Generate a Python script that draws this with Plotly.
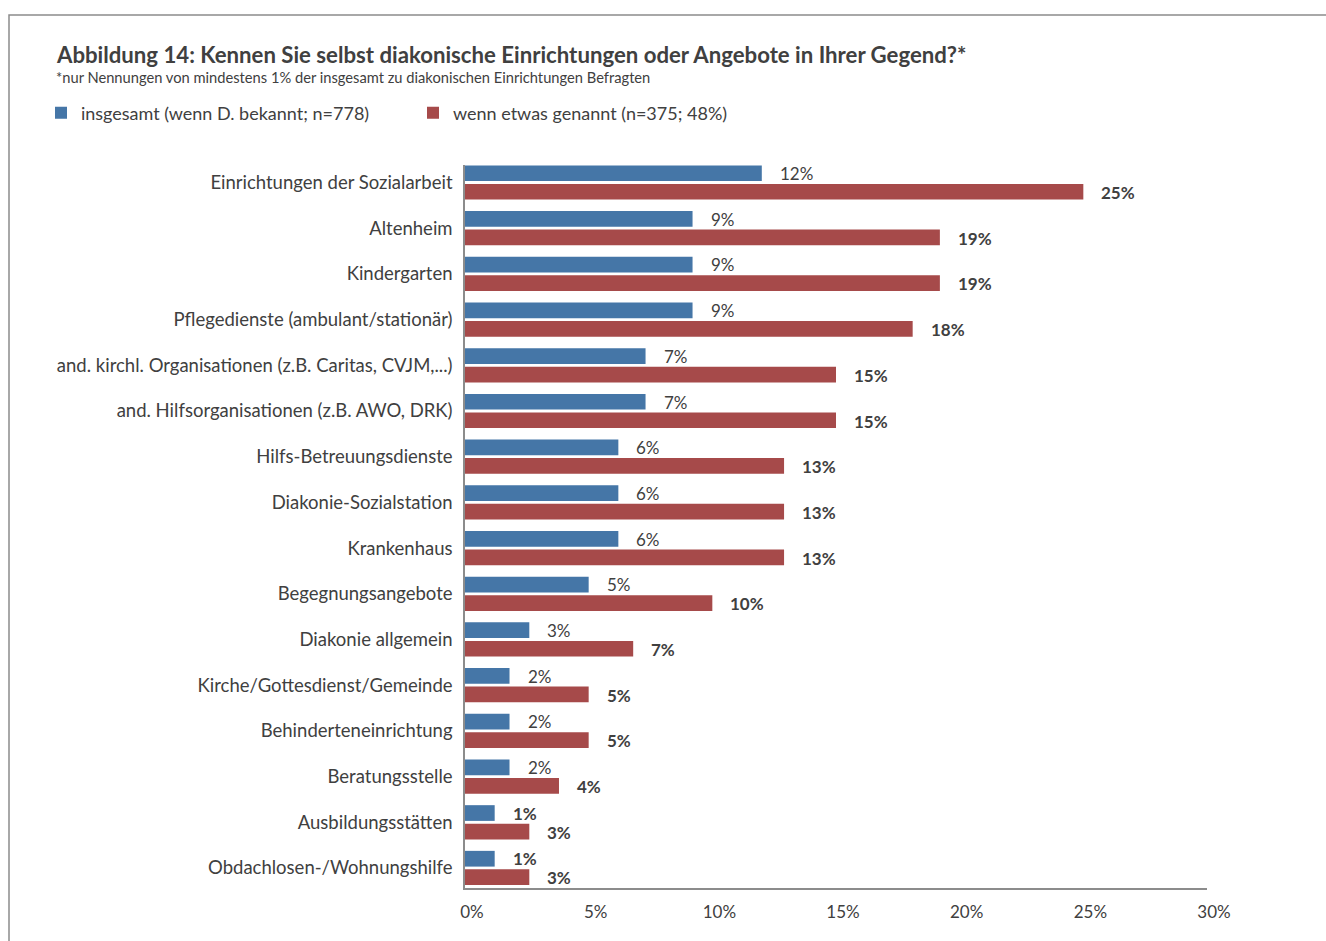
import plotly.graph_objects as go

# Survey data: share of respondents naming each type of diaconal institution
categories = [
    "Einrichtungen der Sozialarbeit",
    "Altenheim",
    "Kindergarten",
    "Pflegedienste (ambulant/stationär)",
    "and. kirchl. Organisationen (z.B. Caritas, CVJM,...)",
    "and. Hilfsorganisationen (z.B. AWO, DRK)",
    "Hilfs-Betreuungsdienste",
    "Diakonie-Sozialstation",
    "Krankenhaus",
    "Begegnungsangebote",
    "Diakonie allgemein",
    "Kirche/Gottesdienst/Gemeinde",
    "Behinderteneinrichtung",
    "Beratungsstelle",
    "Ausbildungsstätten",
    "Obdachlosen-/Wohnungshilfe",
]
insgesamt = [12, 9.2, 9.2, 9.2, 7.3, 7.3, 6.2, 6.2, 6.2, 5.0, 2.6, 1.8, 1.8, 1.8, 1.2, 1.2]
genannt = [25.0, 19.2, 19.2, 18.1, 15.0, 15.0, 12.9, 12.9, 12.9, 10.0, 6.8, 5.0, 5.0, 3.8, 2.6, 2.6]
series_names = ["insgesamt (wenn D. bekannt; n=778)", "wenn etwas genannt (n=375; 48%)"]
x_ticks = [0, 5, 10, 15, 20, 25, 30]
x_tick_labels = ["0%", "5%", "10%", "15%", "20%", "25%", "30%"]

title_text = "Abbildung 14: Kennen Sie selbst diakonische Einrichtungen oder Angebote in Ihrer Gegend?*"
subtitle_text = "*nur Nennungen von mindestens 1% der insgesamt zu diakonischen Einrichtungen Befragten"

FONT = "Lato"
TEXT = "#404040"
BLUE = "#4576a7"
RED = "#a64a4a"

W, H = 1326, 941
ML, MR, MT, MB = 465, 119, 165, 53
PW, PH = W - ML - MR, H - MT - MB


def px_x(px):
    return (px - ML) / PW


def px_y(py):
    return (H - MB - py) / PH


fig = go.Figure()
fig.add_trace(go.Bar(
    y=categories, x=insgesamt, orientation="h", name=series_names[0],
    marker=dict(color=BLUE, line=dict(width=0)), hoverinfo="x+y",
))
fig.add_trace(go.Bar(
    y=categories, x=genannt, orientation="h", name=series_names[1],
    marker=dict(color=RED, line=dict(width=0)), hoverinfo="x+y",
))

# value labels at the end of each bar
annotations = []
for cat, v in zip(categories, insgesamt):
    label = f"{v:.0f}%"
    annotations.append(dict(
        x=v, y=cat, xref="x", yref="y", text=f"<b>{label}</b>" if round(v) <= 1 else label,
        showarrow=False, xanchor="left", yanchor="middle", xshift=16, yshift=9,
        font=dict(family=FONT, size=17, color=TEXT),
    ))
for cat, v in zip(categories, genannt):
    annotations.append(dict(
        x=v, y=cat, xref="x", yref="y", text=f"<b>{v:.0f}%</b>",
        showarrow=False, xanchor="left", yanchor="middle", xshift=16, yshift=-10,
        font=dict(family=FONT, size=17, color=TEXT),
    ))
annotations.append(dict(
    x=px_x(57), y=px_y(77), xref="paper", yref="paper", text=subtitle_text,
    showarrow=False, xanchor="left", yanchor="middle", xshift=-3,
    font=dict(family=FONT, size=14.7, color=TEXT),
))

fig.update_layout(
    width=W, height=H,
    margin=dict(l=ML, r=MR, t=MT, b=MB, autoexpand=False),
    paper_bgcolor="white", plot_bgcolor="white",
    font=dict(family=FONT, color=TEXT),
    barmode="group", bargap=0.19, bargroupgap=0.15,
    title=dict(
        text=f"<b>{title_text}</b>", xref="container", yref="container",
        x=57 / W, xanchor="left", y=1 - 55 / H, yanchor="middle",
        font=dict(family=FONT, size=22.2, color=TEXT),
    ),
    showlegend=True,
    legend=dict(
        orientation="h", x=px_x(41), xanchor="left", y=px_y(113), yanchor="middle",
        entrywidth=327, traceorder="normal",
        font=dict(family=FONT, size=18, color=TEXT), bgcolor="rgba(0,0,0,0)",
    ),
    xaxis=dict(
        range=[0, 30], tickvals=x_ticks, ticktext=x_tick_labels,
        showgrid=False, zeroline=False, showline=True, linecolor="#8c8c8c", linewidth=1.5,
        ticks="", ticklabelstandoff=8, ticklabelshift=7,
        tickfont=dict(family=FONT, size=17, color=TEXT), fixedrange=True,
    ),
    yaxis=dict(
        type="category", categoryorder="array", categoryarray=categories,
        range=[15.438, -0.383], showgrid=False, zeroline=False,
        showline=True, linecolor="#8c8c8c", linewidth=1.5, ticks="",
        ticklabelstandoff=7, tickfont=dict(family=FONT, size=18.5, color=TEXT),
        fixedrange=True,
    ),
    annotations=annotations,
    shapes=[dict(
        type="rect", xref="paper", yref="paper", layer="below",
        x0=px_x(9), x1=px_x(W + 10), y0=px_y(H + 10), y1=px_y(15),
        line=dict(color="#8c8c8c", width=1.5), fillcolor="rgba(0,0,0,0)",
    )],
)

fig.write_html("out.html")
